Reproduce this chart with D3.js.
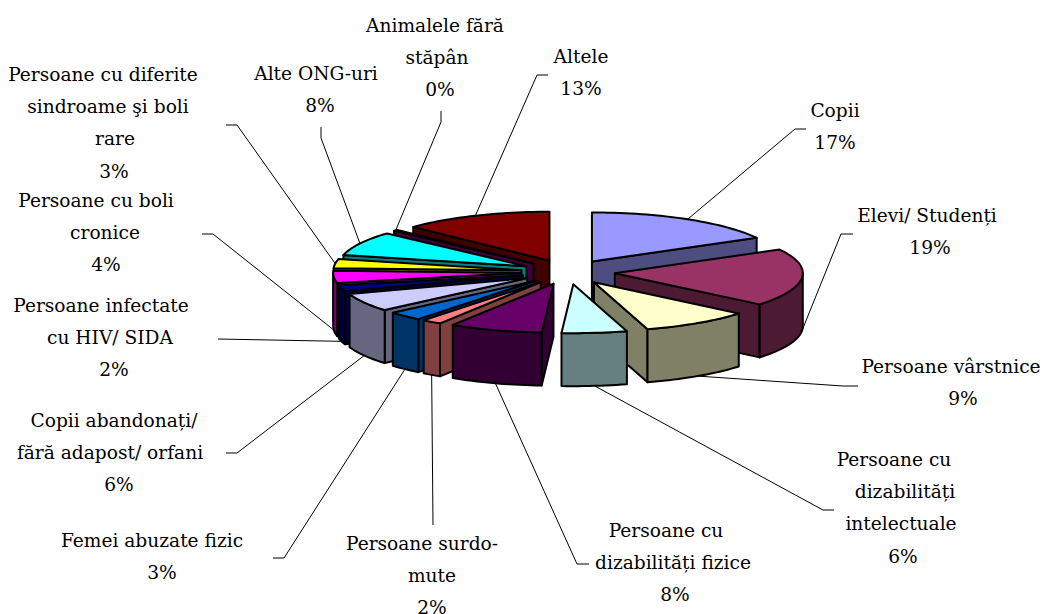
<!DOCTYPE html>
<html><head><meta charset="utf-8">
<script src="https://cdn.jsdelivr.net/npm/d3@7"></script>
<style>html,body{margin:0;padding:0;background:#fff}svg{display:block}
text{font-family:"DejaVu Serif",serif;font-size:18.6px;fill:#000}</style>
</head><body><svg id="c" width="1044" height="614"></svg>
<script>
const categories=["Copii","Elevi/ Studenți","Persoane vârstnice","Persoane cu dizabilități intelectuale","Persoane cu dizabilități fizice","Persoane surdo-mute","Femei abuzate fizic","Copii abandonați/ fără adapost/ orfani","Persoane infectate cu HIV/ SIDA","Persoane cu boli cronice","Persoane cu diferite sindroame şi boli rare","Alte ONG-uri","Animalele fără stăpân","Altele"];
const values=[17,19,9.4,5.6,8,1.7,3,6,2,4,3,8,0.4,12.9];
const colors=["#9999FF","#993366","#FFFFCC","#CCFFFF","#660066","#FF8080","#0066CC","#CCCCFF","#000080","#FF00FF","#FFFF00","#00FFFF","#800080","#800000"];
const labelLines=[["Copii"],["Elevi/ Studenți"],["Persoane vârstnice"],["Persoane cu","dizabilități","intelectuale"],["Persoane cu","dizabilități fizice"],["Persoane surdo-","mute"],["Femei abuzate fizic"],["Copii abandonați/","fără adapost/ orfani"],["Persoane infectate","cu HIV/ SIDA"],["Persoane cu boli","cronice"],["Persoane cu diferite","sindroame şi boli","rare"],["Alte ONG-uri"],["Animalele fără","stăpân"],["Altele"]];
// layout of the labels: centre of each line (last = the percentage) and first baseline
const labelX=[[835,835],[927,930],[951,963],[894,905,901,903],[666,673,675],[422,432,432],[152,162],[114,110,119],[101,110,114],[96,105,106],[103,108,115,114],[316,320],[435,437,440],[581,581]];
const labelY=[117,222,373,466,537,550,547,427,312,207,81,80,32,63];
const leaderBends=[[[795,129],[806,129]],[[841,234],[853,234]],[[843,386],[858,386]],[[823,510],[834,510]],[[577,564],[589,564]],[[433,525]],[[284,558],[273,558]],[[237,453],[226,453]],[[218,339]],[[213,234],[202,234]],[[237,125],[226,125]],[[321,138],[321,127]],[[441,122],[441,111]],[[537,75],[548,75]]];

const cx=568,cy=272,rx=188,ry=49,depth=53,explode=.25,lineH=32.2;
const svg=d3.select("#c");
const arcs=d3.pie().sort(null).startAngle(0).endAngle(2*Math.PI)(values);
const pct=d3.scaleLinear().domain([0,d3.sum(values)]).range([0,100]);
const px=a=>rx*Math.sin(a),py=a=>-ry*Math.cos(a);
const darker=c=>{const q=d3.rgb(c);return d3.rgb(q.r/2,q.g/2,q.b/2).formatHex()};
const line=d3.line();
const slices=arcs.map((d,i)=>{
  const m=(d.startAngle+d.endAngle)/2;
  return {i,a0:d.startAngle,a1:d.endAngle,m,ax:cx+explode*px(m),ay:cy+explode*py(m),
    key:Math.min(m,2*Math.PI-m)};
});
function arcPts(s,from,to,dy=0){
  const n=Math.max(2,Math.ceil((to-from)/0.03)),r=[];
  for(let k=0;k<=n;k++){const a=from+(to-from)*k/n;r.push([s.ax+px(a),s.ay+py(a)+dy]);}
  return r;
}
const g=svg.append("g").attr("stroke","#000").attr("stroke-width",2).attr("stroke-linejoin","round");
const lg=svg.insert("g",":first-child").attr("fill","none").attr("stroke","#000").attr("stroke-width",1);
slices.forEach((s,i)=>{
  const low=Math.cos(s.m)<0;
  const st=[s.ax+px(s.m),s.ay+py(s.m)+(low?depth:0)];
  lg.append("path").attr("d",line([st,...leaderBends[i]]));
});
[...slices].sort((a,b)=>a.key-b.key).forEach(s=>{
  const c=colors[s.i],dk=darker(c);
  const sg=g.append("g").attr("class","slice");
  const A=[s.ax,s.ay],B=[s.ax,s.ay+depth];
  const face=a=>{const P=[s.ax+px(a),s.ay+py(a)];
    sg.append("path").attr("fill",dk).attr("d",line([A,P,[P[0],P[1]+depth],B])+"Z");};
  if(s.a0>Math.PI) face(s.a0);
  if(s.a1<Math.PI) face(s.a1);
  const from=Math.max(s.a0,Math.PI/2),to=Math.min(s.a1,1.5*Math.PI);
  if(to>from){
    const top=arcPts(s,from,to),bot=arcPts(s,from,to,depth).reverse();
    sg.append("path").attr("fill",dk).attr("d",line([...top,...bot])+"Z");
  }
  sg.append("path").attr("fill",c).attr("d",line([A,...arcPts(s,s.a0,s.a1)])+"Z");
});
const tg=svg.append("g").attr("text-anchor","middle");
labelLines.forEach((ls,i)=>{
  [...ls,d3.format(".0f")(pct(values[i]))+"%"].forEach((t,k)=>{
    tg.append("text").attr("x",labelX[i][k]).attr("y",labelY[i]+k*lineH).text(t);
  });
});
</script></body></html>
